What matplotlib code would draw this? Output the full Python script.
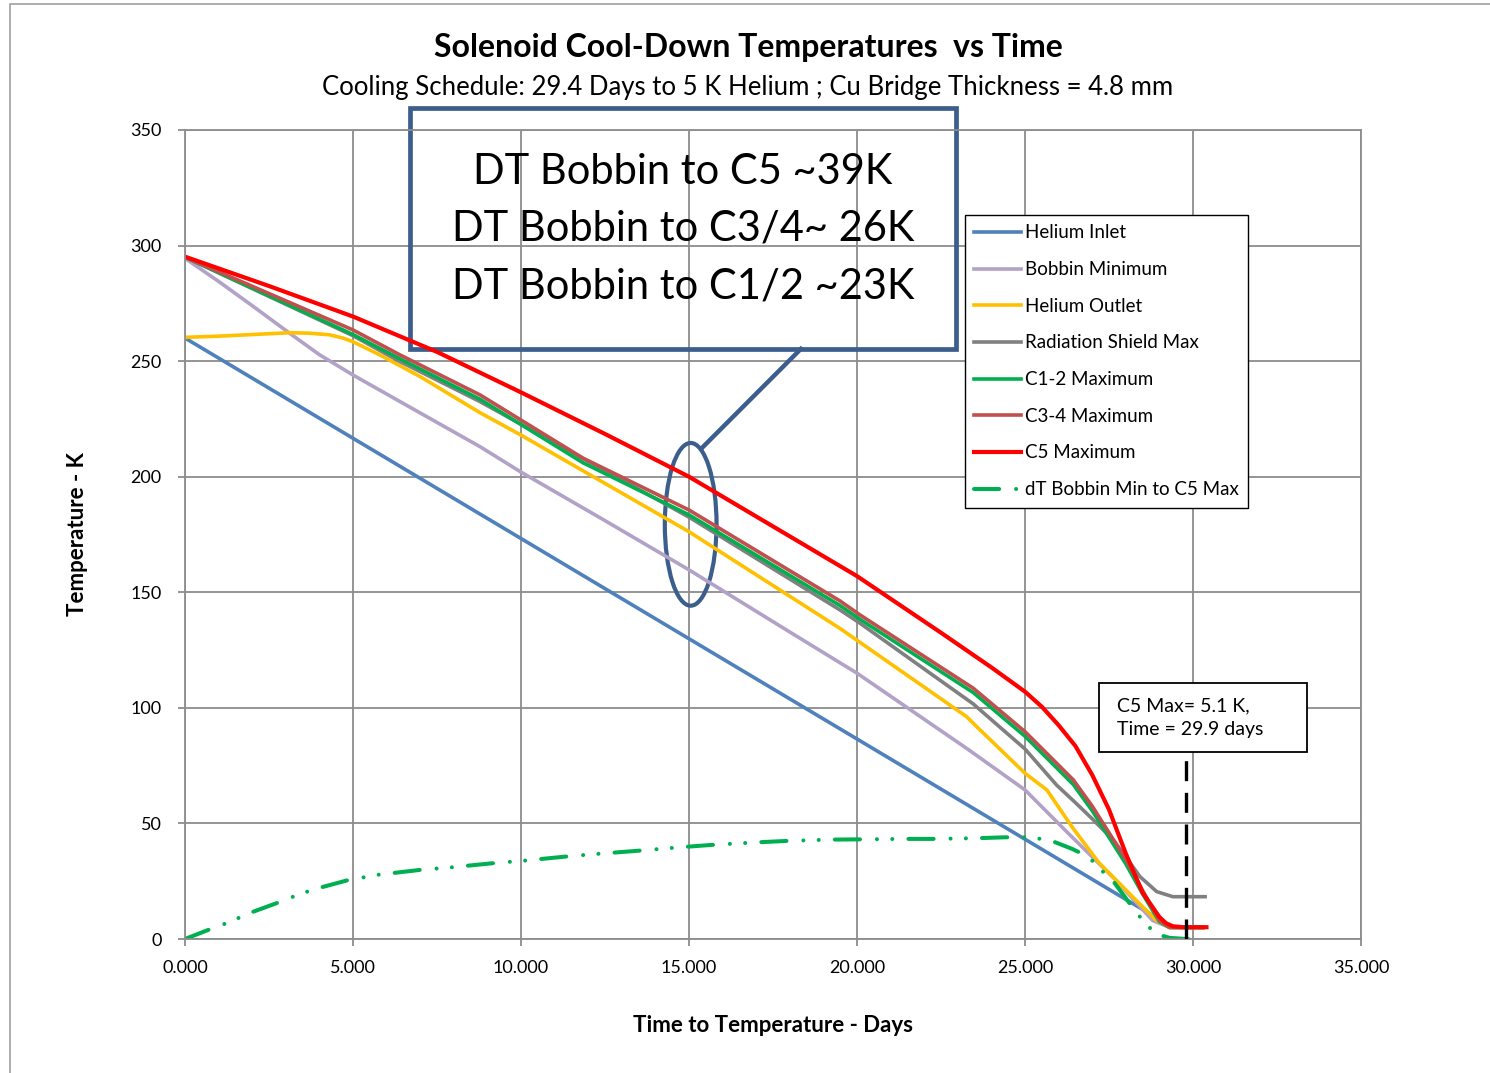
import numpy as np
import matplotlib
matplotlib.use('Agg')
import matplotlib.pyplot as plt
from matplotlib.patches import Ellipse, Rectangle
from matplotlib.ticker import FormatStrFormatter, MultipleLocator

plt.rcParams['font.family'] = ['Lato', 'DejaVu Sans']

# DATOS
he_in_t = [0.0, 29.4, 30.3]
he_in_T = [260.0, 5.0, 5.0]

bob_t = [0.0, 1.0, 2.0, 3.12, 4.0, 5.0, 6.4, 8.78, 10.0, 12.5, 15.0, 17.9, 20.0,
         23.26, 25.0, 26.2, 27.7, 28.8, 29.3, 30.3]
bob_T = [294.5, 284.5, 274.0, 262.0, 252.8, 244.0, 232.5, 213.0, 202.0, 181.0, 159.7,
         133.7, 115.0, 82.5, 64.5, 47.0, 25.5, 8.0, 5.0, 5.0]

he_out_t = [0.0, 1.0, 2.0, 3.12, 3.7, 4.3, 4.7, 5.0, 5.8, 7.0, 8.78, 10.0, 15.0, 19.5,
            23.26, 23.56, 25.0, 25.65, 26.4, 27.2, 28.2, 28.9, 29.3, 30.3]
he_out_T = [260.3, 260.8, 261.5, 262.3, 262.1, 261.4, 260.0, 258.4, 252.7, 243.3, 227.7,
            218.0, 176.2, 134.3, 96.2, 91.9, 71.7, 64.5, 48.5, 33.0, 18.3, 8.2, 5.0, 5.0]

shield_t = [0.0, 5.0, 6.4, 8.78, 15.0, 19.49, 20.09, 23.46, 25.0, 25.94, 26.5, 27.0,
            27.63, 28.0, 28.42, 28.92, 29.4, 30.36]
shield_T = [295.0, 261.0, 249.8, 232.5, 182.5, 142.4, 136.6, 101.7, 82.2, 66.6, 59.0,
            52.0, 42.8, 35.5, 27.0, 20.5, 18.3, 18.3]

c12_t = [0.0, 5.0, 6.4, 8.78, 11.85, 15.0, 19.49, 20.09, 23.46, 25.0, 26.44, 27.0,
         27.5, 28.0, 28.5, 29.0, 29.3, 30.3]
c12_T = [295.0, 261.5, 251.0, 233.5, 206.0, 183.5, 144.3, 138.3, 106.6, 87.7, 66.8, 55.5,
         44.0, 32.5, 19.5, 7.5, 5.0, 5.0]

c34_t = [0.0, 5.0, 6.4, 8.78, 11.85, 15.0, 19.49, 20.09, 23.46, 25.0, 26.44, 27.0,
         27.5, 28.0, 28.5, 29.0, 29.3, 30.3]
c34_T = [295.0, 263.5, 252.7, 235.4, 208.0, 185.6, 146.3, 140.2, 108.5, 89.7, 68.8, 57.5,
         46.0, 34.5, 21.0, 8.0, 5.0, 5.0]

c5_t = [0.0, 2.5, 5.0, 7.5, 10.0, 12.5, 15.0, 17.5, 20.0, 22.5, 24.0, 25.0, 25.5, 26.0,
        26.5, 27.0, 27.5, 28.0, 28.5, 29.0, 29.2, 29.4, 29.7, 30.4]
c5_T = [295.2, 282.5, 269.3, 254.0, 236.5, 218.5, 200.0, 178.5, 157.0, 132.5, 117.5,
        107.0, 100.5, 92.5, 83.5, 71.0, 56.0, 37.0, 20.0, 9.5, 6.8, 5.5, 5.1, 5.1]

dt_t = [0, 0.74, 1.19, 1.61, 2.03, 2.78, 3.2, 3.64, 4.07, 4.86, 5.75, 7.0, 7.92, 9.17,
        10.1, 11.36, 12.25, 13.5, 14.83, 15.67, 17.0, 17.86, 19.2, 20.04, 21.4, 22.2,
        23.56, 24.4, 25.0, 25.7, 26.4, 26.9, 27.2, 27.6, 28.0, 28.3, 28.6, 28.9, 29.3,
        29.8, 30.2]
dt_T = [0, 4.2, 6.6, 9.2, 11.8, 15.8, 18.2, 20.5, 22.4, 25.5, 27.8, 29.9, 31.0, 32.8,
        33.9, 35.7, 36.8, 38.2, 39.8, 40.7, 41.8, 42.4, 43.0, 43.1, 43.3, 43.3, 43.6,
        44.0, 44.0, 43.0, 39.0, 35.5, 30.7, 25.5, 17.7, 11.7, 6.5, 2.2, 0.5, 0.0, 0.0]

c5_min_T = 5.1
c5_min_t = 29.9
linea_t = 29.8   # posicion de la linea vertical tal como se ve

azul = '#3B5E8C'
gris = '#8C8C8C'

fig = plt.figure(figsize=(14.9, 10.73), dpi=100)
ax = fig.add_axes([185/1490, 1-939/1073, 1176/1490, 809/1073])

# borde exterior
fig.patches.append(Rectangle((10/1490, -0.01), 1.0, 1.01-4/1073, transform=fig.transFigure,
                             fill=False, ec='#A0A0A0', lw=1.2))

ax.plot(he_in_t, he_in_T, color='#4F81BD', lw=2.6, label='Helium Inlet')
ax.plot(bob_t, bob_T, color='#B3A2C7', lw=2.6, label='Bobbin Minimum')
ax.plot(he_out_t, he_out_T, color='#FFC000', lw=2.6, label='Helium Outlet')
ax.plot(shield_t, shield_T, color='#808080', lw=2.6, label='Radiation Shield Max')
ax.plot(c12_t, c12_T, color='#00B050', lw=2.6, label='C1-2 Maximum')
ax.plot(c34_t, c34_T, color='#C0504D', lw=2.6, label='C3-4 Maximum')
ax.plot(c5_t, c5_T, color='#FF0000', lw=3.0, label='C5 Maximum')
ax.plot(dt_t, dt_T, color='#00B050', lw=2.9, dash_capstyle='round',
        linestyle=(0, (6.25, 4.2, 0.01, 3.8, 0.01, 4.0)), label='dT Bobbin Min to C5 Max')

ax.set_xlim(0, 35)
ax.set_ylim(0, 350)
ax.xaxis.set_major_locator(MultipleLocator(5))
ax.yaxis.set_major_locator(MultipleLocator(50))
ax.xaxis.set_major_formatter(FormatStrFormatter('%.3f'))
ax.grid(True, color=gris, lw=1.3)
ax.set_axisbelow(True)
for s in ax.spines.values():
    s.set_color(gris)
    s.set_linewidth(1.3)
ax.tick_params(colors=gris, labelcolor='black', labelsize=13, length=5, width=1.3)
ax.tick_params(axis='x', pad=10)
ax.tick_params(axis='y', pad=12)

ax.set_xlabel('Time to Temperature - Days', fontsize=16, fontweight='bold', labelpad=28)
ax.set_ylabel('Temperature - K', fontsize=16, fontweight='bold', labelpad=30)

fig.text(0.502, 1-48/1073, 'Solenoid Cool-Down Temperatures  vs Time', ha='center',
         va='center', fontsize=23, fontweight='bold')
fig.text(0.502, 1-87/1073, 'Cooling Schedule: 29.4 Days to 5 K Helium ; Cu Bridge Thickness = 4.8 mm',
         ha='center', va='center', fontsize=18.5)

leg = ax.legend(loc='upper left', bbox_to_anchor=(965/1490, 1-215/1073),
                bbox_transform=fig.transFigure, borderaxespad=0, fancybox=False,
                edgecolor='black', fontsize=13.5, handlelength=2.5, handletextpad=0.2,
                labelspacing=1.05, borderpad=0.5, framealpha=1)
leg.get_frame().set_linewidth(1.0)

# cuadro de texto DT
ax.add_patch(Rectangle((6.70, 255.3), 16.25, 104.3, fill=False, ec=azul, lw=3.4, clip_on=False))
ax.text(14.82, 307.2, 'DT Bobbin to C5 ~39K\nDT Bobbin to C3/4~ 26K\nDT Bobbin to C1/2 ~23K',
        ha='center', va='center', fontsize=30, linespacing=1.62, clip_on=False)
ax.plot([18.33, 15.41], [255.3, 212.8], color=azul, lw=3.2)
ax.add_patch(Ellipse((15.05, 179.4), 1.54, 70.4, fill=False, ec=azul, lw=3.0))

# anotacion C5 minimo
ax.plot([linea_t, linea_t], [0, 81], color='black', lw=2.4, linestyle=(0, (6, 3.5)), zorder=5)
ax.add_patch(Rectangle((27.2, 81), 6.2, 29.8, fc='white', ec='black', lw=1.3, zorder=6))
ax.text(27.75, 95.8, 'C5 Max= %.1f K,\nTime = %.1f days' % (c5_min_T, c5_min_t),
        ha='left', va='center', fontsize=14, linespacing=1.5, zorder=7)

plt.savefig('out.png', dpi=100)
